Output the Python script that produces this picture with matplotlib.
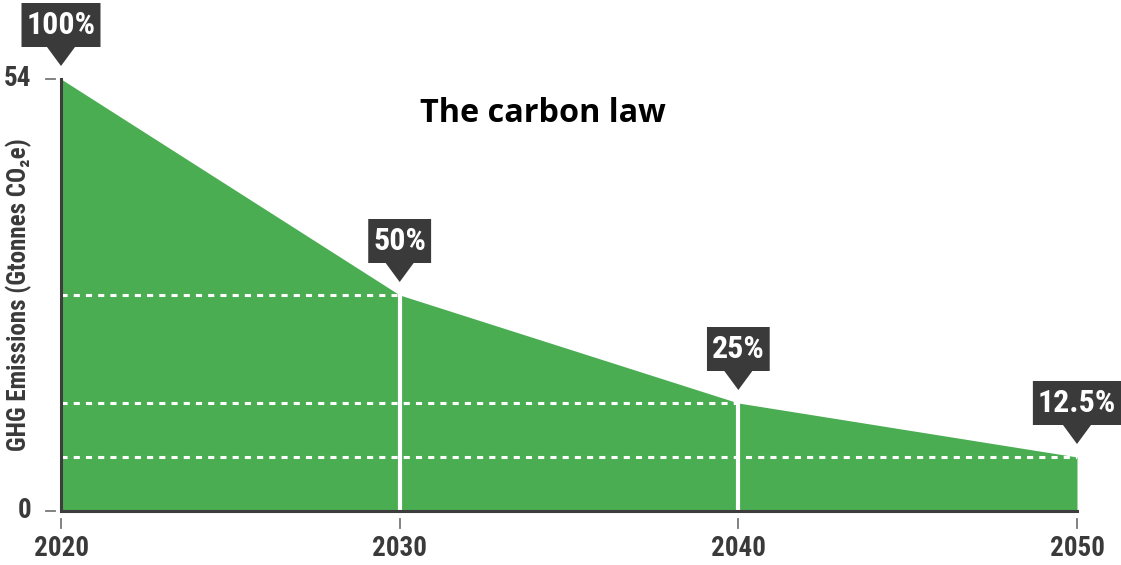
import matplotlib
matplotlib.use("Agg")
import matplotlib.pyplot as plt
import matplotlib.transforms as mtransforms
from matplotlib.patches import Polygon
from matplotlib.lines import Line2D
from matplotlib import font_manager

years = [2020, 2030, 2040, 2050]
emissions = [54, 27, 13.5, 6.75]
callouts = ["100%", "50%", "25%", "12.5%"]
y_ticks = [0, 54]

green = "#4aad52"
dark = "#3a3a3a"
axis_col = "#3d3d3d"

names = {f.name for f in font_manager.fontManager.ttflist}
narrow = next((n for n in ["Roboto Condensed", "Roboto"] if n in names), "DejaVu Sans")
cond = dict(family=narrow, weight="bold")

fig = plt.figure(figsize=(11.21, 5.65), dpi=100)
ax = fig.add_axes([61 / 1121, 1 - 511 / 565, (1077 - 61) / 1121, (511 - 79) / 565])
ax.set_xlim(years[0], years[-1])
ax.set_ylim(0, max(emissions))

ax.fill_between(years, emissions, color=green, lw=0, zorder=1)

# guide lines
for yr, v in zip(years[1:], emissions[1:]):
    ax.plot([years[0], yr], [v, v], color="white", lw=2.2, ls=(0, (2.0, 2.0)), zorder=2)
    if yr != years[-1]:
        ax.plot([yr, yr], [0, v], color="white", lw=3, zorder=2)

ax.set_xticks([])
ax.set_yticks([])
for s in ["top", "right"]:
    ax.spines[s].set_visible(False)
for s in ["left", "bottom"]:
    ax.spines[s].set_color(axis_col)
    ax.spines[s].set_linewidth(2.2)
    ax.spines[s].set_zorder(3)


def at(x, y):
    # pixel offsets around a data point
    return mtransforms.Affine2D() + mtransforms.ScaledTranslation(x, y, ax.transData)


# tick marks with a gap, and labels
for yr in years:
    ax.add_line(Line2D([0, 0], [-8, -17], color="#777777", lw=1.3, transform=at(yr, 0), clip_on=False))
    ax.text(0, -37, str(yr), transform=at(yr, 0), ha="center", va="center",
            fontsize=19.5, color=dark, **cond)
for v in y_ticks:
    ax.add_line(Line2D([-15, -6], [0, 0], color="#777777", lw=1.3, transform=at(years[0], v), clip_on=False))
    ax.text(-30, 0, str(v), transform=at(years[0], v), ha="right", va="center",
            fontsize=19.5, color=dark, **cond)

ax.text(-42, 0.5, "GHG Emissions (Gtonnes CO\u2082e)", transform=mtransforms.blended_transform_factory(
    mtransforms.Affine2D() + mtransforms.ScaledTranslation(61, 0, mtransforms.IdentityTransform()), ax.transAxes),
    rotation=90, ha="center", va="center", fontsize=18, color=dark, **cond)

# percentage callouts: dark box with a pointer
renderer = fig.canvas.get_renderer()
for yr, v, lab in zip(years, emissions, callouts):
    t = ax.text(0, 54, lab, transform=at(yr, v), ha="center", va="center", fontsize=23,
                color="white", zorder=5, clip_on=False, **cond)
    hw = t.get_window_extent(renderer).width / 2 + 5
    shape = [(0, 13), (-14, 32), (-hw, 32), (-hw, 76), (hw, 76), (hw, 32), (14, 32)]
    ax.add_patch(Polygon(shape, closed=True, fc=dark, ec="none",
                         transform=at(yr, v), clip_on=False, zorder=4))

fig.text(543 / 1121, 1 - 113 / 565, "The carbon law", ha="center", va="center",
         fontsize=23.3, fontweight="bold", family="Open Sans", color="black")

fig.savefig("out.png", dpi=100)
